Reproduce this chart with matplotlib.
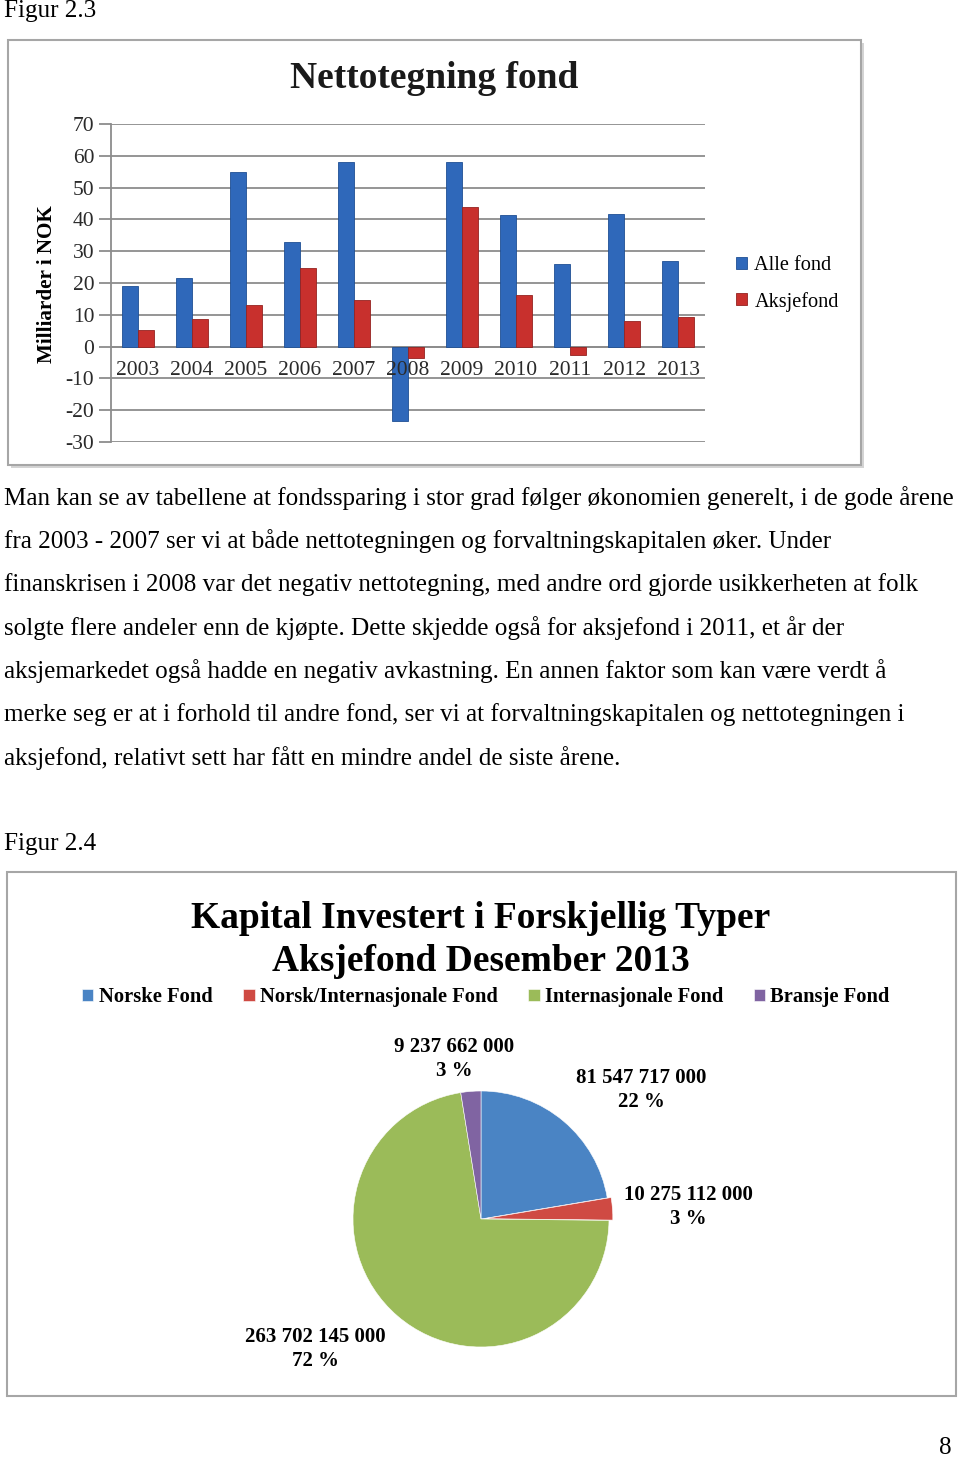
import matplotlib
matplotlib.use("Agg")
import matplotlib.pyplot as plt
from matplotlib.patches import Rectangle

# ---------------- data ----------------
years = ["2003", "2004", "2005", "2006", "2007", "2008", "2009", "2010", "2011", "2012", "2013"]
alle_fond = [19.2, 21.6, 54.8, 33.0, 58.2, -23.4, 58.2, 41.4, 26.0, 41.8, 27.0]
aksjefond = [5.2, 8.7, 13.2, 24.7, 14.7, -3.7, 43.9, 16.3, -2.6, 7.9, 9.2]
y_ticks = [-30, -20, -10, 0, 10, 20, 30, 40, 50, 60, 70]

pie_categories = ["Norske Fond", "Norsk/Internasjonale Fond", "Internasjonale Fond", "Bransje Fond"]
pie_values = [81547717000, 10275112000, 263702145000, 9237662000]
pie_value_labels = ["81 547 717 000", "10 275 112 000", "263 702 145 000", "9 237 662 000"]
pie_pct_labels = ["22 %", "3 %", "72 %", "3 %"]

paragraph = [
    "Man kan se av tabellene at fondssparing i stor grad følger økonomien generelt, i de gode årene",
    "fra 2003 - 2007 ser vi at både nettotegningen og forvaltningskapitalen øker. Under",
    "finanskrisen i 2008 var det negativ nettotegning, med andre ord gjorde usikkerheten at folk",
    "solgte flere andeler enn de kjøpte. Dette skjedde også for aksjefond i 2011, et år der",
    "aksjemarkedet også hadde en negativ avkastning. En annen faktor som kan være verdt å",
    "merke seg er at i forhold til andre fond, ser vi at forvaltningskapitalen og nettotegningen i",
    "aksjefond, relativt sett har fått en mindre andel de siste årene.",
]

# ---------------- figure ----------------
W, H = 960, 1458
plt.rcParams["font.family"] = ["Liberation Serif", "DejaVu Serif"]
fig = plt.figure(figsize=(W / 100, H / 100), dpi=100)

def fx(x):
    return x / W

def fy(y):
    return 1 - y / H

def box(x0, y0, x1, y1, shadow=True):
    if shadow:
        fig.patches.append(Rectangle((fx(x0 + 3), fy(y1 + 3)), fx(x1 - x0), (y1 - y0) / H,
                                     transform=fig.transFigure, facecolor="#d4d4d4",
                                     edgecolor="none", zorder=-3))
    fig.patches.append(Rectangle((fx(x0), fy(y1)), fx(x1 - x0), (y1 - y0) / H,
                                 transform=fig.transFigure, facecolor="white",
                                 edgecolor="#a6a6a6", lw=1.5, zorder=-2))

TXT = 18.1
# page text
fig.text(fx(4), fy(11), "Figur 2.3", fontsize=TXT, va="center", ha="left")
for i, line in enumerate(paragraph):
    fig.text(fx(4), fy(498 + i * 43.3), line, fontsize=TXT, va="center", ha="left")
fig.text(fx(4), fy(844), "Figur 2.4", fontsize=TXT, va="center", ha="left")
fig.text(fx(945), fy(1448), "8", fontsize=TXT, va="center", ha="center")

# ---------------- bar chart ----------------
box(8, 40, 861, 465)
ax = fig.add_axes([fx(111), fy(442), fx(705 - 111), (442 - 124) / H])
ax.patch.set_alpha(0)
xs = list(range(len(years)))
bw = 0.29
blue = "#2f68ba"
red = "#c8302d"
ax.bar([x - bw / 2 for x in xs], alle_fond, bw, color=blue, edgecolor="#1f4f94", lw=0.6,
       label="Alle fond", zorder=3)
ax.bar([x + bw / 2 for x in xs], aksjefond, bw, color=red, edgecolor="#952220", lw=0.6,
       label="Aksjefond", zorder=3)
ax.set_xlim(-0.5, len(years) - 0.5)
ax.set_ylim(-30, 70)
ax.set_yticks(y_ticks)
ax.set_yticklabels([str(t) for t in y_ticks], fontsize=15.5, color="#2a2a2a")
ax.yaxis.grid(True, color="#8c8c8c", lw=1.3, zorder=0)
ax.set_axisbelow(True)
ax.set_xticks([])
for s in ["top", "right", "bottom"]:
    ax.spines[s].set_visible(False)
ax.spines["left"].set_color("#8c8c8c")
ax.spines["left"].set_linewidth(1.3)
ax.tick_params(axis="y", length=9, width=1.3, color="#8c8c8c", pad=3)
ax.axhline(0, color="#8c8c8c", lw=1.3, zorder=2)
for x, yr in zip(xs, years):
    ax.text(x, -7.6, yr, ha="center", va="center", fontsize=15.5, color="#2a2a2a", zorder=5)
fig.text(fx(47), fy(284), "Milliarder i NOK", fontsize=15.2, fontweight="bold",
         rotation=90, ha="center", va="center")
fig.text(fx(434), fy(78), "Nettotegning fond", fontsize=27, fontweight="bold",
         ha="center", va="center", color="#1a1a1a")
ax.legend(loc="center left", bbox_to_anchor=(fx(718), fy(284)),
          bbox_transform=fig.transFigure, frameon=False, fontsize=14.6,
          handlelength=0.55, handleheight=0.55, handletextpad=0.35, labelspacing=0.8)

# ---------------- pie chart ----------------
box(7, 872, 956, 1396, shadow=False)
fig.text(fx(481), fy(940), "Kapital Investert i Forskjellig Typer\nAksjefond Desember 2013",
         fontsize=27, fontweight="bold", ha="center", va="center", linespacing=1.26)

pie_colors = ["#4a84c4", "#cf4a43", "#9bbb59", "#8064a2"]
pax = fig.add_axes([fx(481 - 160), fy(1219 + 160), fx(320), 320 / H])
pax.patch.set_alpha(0)
wedges, _ = pax.pie(pie_values, colors=pie_colors, startangle=90, counterclock=False,
                    explode=[0, 0.03, 0, 0],
                    wedgeprops=dict(edgecolor="white", linewidth=0.4))
pax.set_xlim(-1.25, 1.25)
pax.set_ylim(-1.25, 1.25)
pax.set_aspect("equal")

label_pos = [(641, 1090), (688, 1207), (315, 1349), (454, 1059)]
for (lx, ly), v, p in zip(label_pos, pie_value_labels, pie_pct_labels):
    fig.text(fx(lx), fy(ly), v + "\n" + p, fontsize=15, fontweight="bold",
             ha="center", va="center", linespacing=1.3)

fig.legend(wedges, pie_categories, loc="center", bbox_to_anchor=(fx(486), fy(997)),
           ncol=4, frameon=False, prop=dict(size=14.8, weight="bold"),
           handlelength=0.55, handleheight=0.55, handletextpad=0.25, columnspacing=1.5)

fig.savefig("out.png", dpi=100)
